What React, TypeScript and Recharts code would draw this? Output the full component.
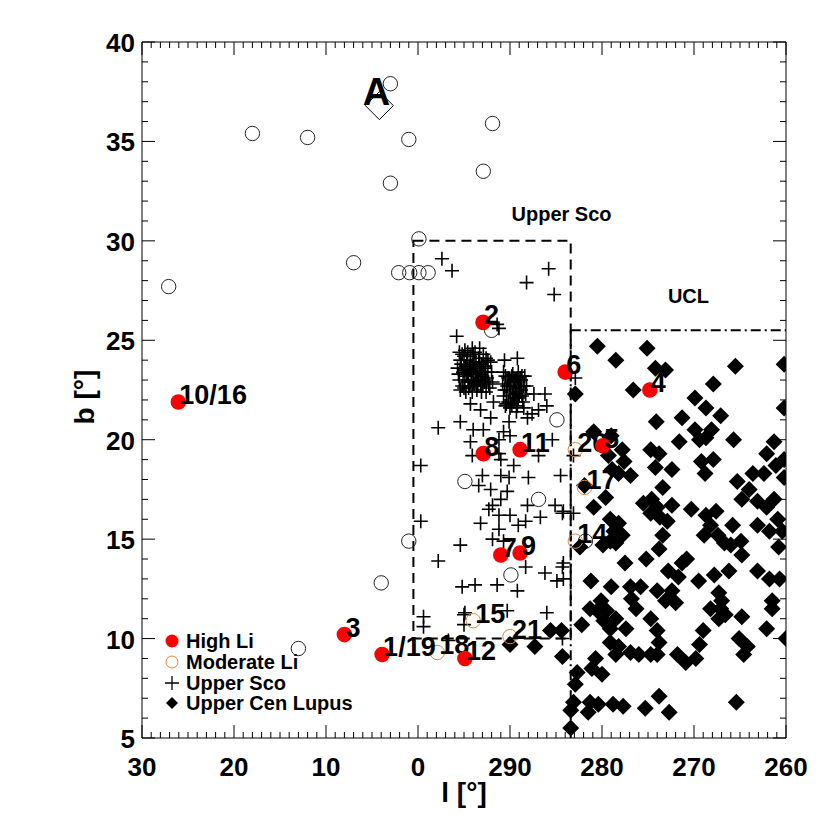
import React from "react";
import {
  ScatterChart,
  Scatter,
  XAxis,
  YAxis,
  ReferenceArea,
  ReferenceLine,
  Customized,
} from "recharts";

const FONT = "'Liberation Sans', Arial, Helvetica, sans-serif";

// x ticks: linear offset from l=0, labels as printed on the figure
const xMajor = [30, 20, 10, 0, -10, -20, -30, -40];
const xMajorLabels = ["30", "20", "10", "0", "290", "280", "270", "260"];
const yMajor = [5, 10, 15, 20, 25, 30, 35, 40];

// unlabelled field stars (open black circles)
const otherStars: [number, number][] = [
  [27.1, 27.7], [18.0, 35.4], [12.0, 35.2], [3.0, 37.9], [1.0, 35.1], [3.0, 32.9],
  [7.0, 28.9], [-0.1, 30.1], [2.1, 28.4], [0.9, 28.4], [-0.1, 28.4], [-1.1, 28.4],
  [-8.1, 35.9], [-7.1, 33.5], [-8.0, 25.5], [-15.1, 21.0], [-5.1, 17.9], [-13.1, 17.0],
  [1.0, 14.9], [-10.1, 13.2], [4.0, 12.8], [13.0, 9.5], [-18.2, 14.9],
];

const groupA: [number, number][] = [[4.2, 36.8]];

const upperSco: [number, number][] = [
  [-2.6, 29.1], [-3.7, 28.5], [-14.2, 28.6], [-11.8, 27.9], [-14.8, 27.3], [-8.6, 25.8],
  [-8.8, 25.6], [-4.2, 25.2], [-5.1, 24.5], [-10.8, 24.1], [-9.4, 24.0], [-11.3, 23.2],
  [-13.8, 22.3], [-12.6, 22.3], [-13.1, 21.5], [-14.0, 21.7], [-12.4, 21.3], [-5.7, 21.8],
  [-6.8, 21.5], [-8.2, 21.9], [-7.9, 21.1], [-9.9, 20.9], [-11.9, 21.1], [-4.6, 20.9],
  [-2.2, 20.6], [-6.0, 20.5], [-7.1, 20.5], [-9.3, 20.4], [-5.7, 19.9], [-14.6, 20.0],
  [-8.8, 20.0], [-10.0, 20.2], [-0.3, 18.7], [-5.9, 19.2], [-8.8, 19.3], [-9.0, 19.0],
  [-10.4, 18.7], [-13.1, 19.2], [-7.0, 18.2], [-9.0, 18.2], [-9.9, 18.1], [-6.6, 17.7],
  [-7.9, 17.5], [-9.7, 17.4], [-12.0, 18.1], [-15.5, 18.2], [-14.9, 16.7], [-15.7, 16.3],
  [-11.9, 16.7], [-13.3, 16.1], [-8.1, 16.7], [-7.7, 16.5], [-9.0, 17.0], [-10.0, 16.2],
  [-11.7, 15.9], [-10.9, 15.7], [-8.8, 16.2], [-6.8, 15.8], [-8.8, 15.5], [-8.1, 15.0],
  [-9.3, 14.9], [-0.3, 15.9], [-4.6, 14.7], [-2.2, 13.9], [-11.7, 13.6], [-13.8, 13.3],
  [-15.7, 13.6], [-15.1, 12.9], [-8.6, 12.7], [-4.8, 12.6], [-6.2, 12.7], [-10.8, 12.4],
  [-5.1, 11.3], [-9.7, 11.4], [-14.0, 11.3], [-0.6, 11.1], [-0.6, 10.6], [-5.0, 10.7],
  [-3.3, 9.9], [-5.0, 11.2], [-17.1, 23.1], [-16.9, 19.2], [-15.8, 16.4], [-16.9, 16.3],
  [-15.8, 13.8], [-15.8, 13.0], [-15.7, 10.0],
  // dense group near l~354
  [-4.3, 23.6], [-4.5, 23.0], [-4.6, 24.0], [-4.8, 22.7], [-4.9, 23.4], [-5.0, 24.2],
  [-5.1, 22.9], [-5.2, 23.7], [-5.3, 23.2], [-5.4, 24.4], [-5.5, 22.6], [-5.6, 23.5],
  [-5.7, 23.9], [-5.8, 23.0], [-5.9, 22.4], [-6.0, 23.6], [-6.0, 24.3], [-6.1, 22.8],
  [-6.2, 23.3], [-6.3, 23.9], [-6.4, 22.5], [-6.5, 23.1], [-6.6, 24.1], [-6.7, 23.5],
  [-6.8, 22.7], [-6.9, 23.8], [-7.0, 23.2], [-7.1, 24.3], [-7.2, 22.9], [-7.3, 23.6],
  [-7.5, 23.1], [-7.6, 24.0], [-7.8, 22.6], [-8.0, 23.4], [-5.4, 23.3], [-6.6, 23.0],
  [-5.9, 23.7], [-6.3, 22.9], [-7.4, 22.4], [-4.6, 22.5],
  [-4.4, 23.3], [-4.7, 23.8], [-4.8, 24.3], [-5.0, 22.6], [-5.1, 23.5], [-5.3, 24.0],
  [-5.5, 23.0], [-5.6, 22.7], [-5.7, 24.2], [-5.8, 23.4], [-6.0, 22.9], [-6.1, 23.8],
  [-6.2, 24.4], [-6.4, 23.4], [-6.5, 22.8], [-6.7, 23.9], [-6.8, 23.3], [-7.0, 22.7],
  [-7.1, 23.7], [-7.3, 23.0], [-7.4, 24.1], [-7.6, 23.4], [-7.7, 22.8], [-7.9, 23.9],
  [-5.2, 22.4], [-6.9, 22.4], [-4.5, 24.4], [-8.1, 22.9], [-5.9, 24.6], [-6.7, 24.6],
  // second group near l~350
  [-9.2, 22.8], [-9.3, 22.2], [-9.5, 23.2], [-9.6, 22.5], [-9.8, 21.9], [-9.9, 23.0],
  [-10.0, 22.4], [-10.1, 22.9], [-10.2, 21.8], [-10.3, 23.3], [-10.4, 22.6], [-10.5, 22.1],
  [-10.6, 23.0], [-10.7, 22.4], [-10.8, 21.7], [-10.9, 22.8], [-11.0, 22.2], [-11.1, 23.1],
  [-11.2, 22.5], [-11.4, 21.9], [-11.5, 22.7], [-11.7, 22.3], [-10.3, 22.3], [-9.7, 22.7],
  [-10.9, 23.4], [-10.0, 21.6],
  [-9.3, 23.4], [-9.4, 22.5], [-9.6, 21.8], [-9.8, 23.1], [-10.0, 22.7], [-10.1, 22.0],
  [-10.2, 23.2], [-10.4, 21.9], [-10.5, 22.9], [-10.6, 22.3], [-10.8, 23.1], [-10.9, 22.1],
  [-11.0, 22.6], [-11.2, 23.0], [-11.3, 22.2], [-11.5, 21.6], [-11.6, 23.2], [-9.5, 21.7],
  [-10.7, 21.4], [-11.8, 22.7],
];

const ucl: [number, number][] = [
  [-19.5, 24.7], [-24.9, 24.6], [-21.5, 24.0], [-25.8, 23.6], [-26.9, 23.5], [-23.4, 22.5],
  [-17.1, 22.3], [-25.9, 20.9], [-19.1, 20.4], [-21.0, 20.2], [-22.2, 19.5], [-20.7, 19.2],
  [-25.3, 19.5], [-26.2, 19.3], [-22.4, 18.9], [-21.1, 18.5], [-21.8, 18.3], [-23.1, 18.2],
  [-25.8, 18.6], [-27.6, 18.5], [-18.1, 17.7], [-26.6, 17.6], [-20.4, 17.1], [-19.1, 16.6],
  [-24.5, 16.8], [-25.4, 17.0], [-26.0, 16.6], [-25.3, 16.3], [-27.6, 16.7], [-26.3, 16.1],
  [-27.1, 15.9], [-20.9, 16.0], [-21.8, 15.8], [-21.3, 15.4], [-22.2, 15.2], [-26.6, 15.2],
  [-34.5, 23.7], [-39.8, 23.8], [-32.1, 22.8], [-30.1, 22.1], [-31.3, 21.6], [-32.9, 21.2],
  [-28.7, 21.1], [-39.8, 21.6], [-30.1, 20.5], [-31.9, 20.5], [-30.6, 20.0], [-31.3, 20.1],
  [-28.4, 19.9], [-34.3, 20.0], [-38.7, 19.9], [-37.9, 19.3], [-30.8, 18.9], [-32.1, 19.0],
  [-31.2, 18.3], [-39.8, 19.0], [-38.9, 18.7], [-36.4, 18.3], [-37.6, 18.3], [-39.8, 18.1],
  [-34.7, 17.9], [-36.0, 17.5], [-35.2, 17.0], [-36.9, 16.9], [-38.7, 17.0], [-37.9, 16.6],
  [-29.7, 16.5], [-31.3, 16.2], [-32.4, 16.4], [-31.8, 15.7], [-34.2, 15.7], [-36.9, 15.7],
  [-39.1, 16.0], [-38.2, 15.4], [-39.6, 15.4], [-31.1, 15.2], [-32.6, 15.2],
  [-17.6, 14.6], [-20.1, 14.7], [-21.5, 14.8], [-20.9, 14.9], [-26.2, 14.5], [-22.5, 13.8],
  [-24.8, 14.0], [-27.2, 13.4], [-28.3, 13.1], [-18.8, 12.9], [-21.0, 12.6], [-23.1, 12.6],
  [-24.2, 12.6], [-26.0, 12.4], [-27.6, 12.4], [-26.9, 11.9], [-28.0, 11.8], [-23.2, 12.0],
  [-23.7, 11.5], [-19.9, 11.9], [-18.7, 11.5], [-19.5, 11.4], [-20.5, 11.4], [-21.5, 11.0],
  [-20.2, 10.9], [-20.9, 10.5], [-17.8, 10.7], [-22.6, 10.5], [-25.3, 11.0], [-26.0, 10.4],
  [-26.2, 9.8], [-20.9, 9.8], [-21.8, 9.6], [-21.5, 9.2], [-23.1, 9.3], [-24.0, 9.2],
  [-25.3, 9.2], [-26.0, 9.2], [-28.2, 9.2], [-15.7, 9.1], [-19.3, 9.0], [-18.9, 8.5],
  [-20.0, 8.2], [-17.3, 8.3], [-17.1, 7.7], [-16.9, 6.8], [-16.6, 6.4], [-18.7, 6.8],
  [-19.6, 6.7], [-18.5, 6.3], [-21.2, 6.7], [-22.3, 6.6], [-24.7, 6.5], [-26.2, 7.1],
  [-27.3, 6.3], [-16.6, 5.5],
  [-33.3, 14.8], [-34.0, 14.7], [-35.1, 14.9], [-35.2, 14.2], [-39.2, 14.6], [-29.2, 14.0],
  [-28.7, 13.8], [-30.5, 12.9], [-32.2, 13.2], [-33.8, 13.4], [-36.9, 13.4], [-38.2, 13.0],
  [-39.3, 13.0], [-32.7, 12.3], [-33.0, 11.9], [-31.8, 11.5], [-32.9, 11.5], [-33.4, 11.2],
  [-32.7, 11.0], [-35.2, 11.1], [-38.5, 11.9], [-38.5, 11.5], [-37.9, 10.5], [-31.0, 10.4],
  [-30.6, 9.7], [-34.9, 10.0], [-35.8, 9.6], [-35.4, 9.2], [-40.0, 10.0], [-29.1, 8.8],
  [-30.2, 9.0], [-34.6, 6.8],
  [-10.0, 9.7], [-12.7, 9.6], [-14.4, 10.4], [-15.6, 10.4],
];

const highLi: [number, number][] = [
  [26.05, 21.9], [-7.07, 25.9], [-16.0, 23.4], [-25.2, 22.5], [-20.1, 19.7], [-7.1, 19.3],
  [-11.1, 19.5], [-9.0, 14.2], [-11.1, 14.3], [8.0, 10.2], [3.9, 9.2], [-5.1, 9.0],
];
const highLiLabels = ["10/16", "2", "6", "4", "5", "8", "11", "7", "9", "3", "1/19", "12"];

const moderateLi: [number, number][] = [
  [-2.1, 9.3], [-6.0, 10.9], [-10.0, 10.1], [-17.1, 19.5], [-18.1, 17.6], [-17.1, 14.9],
];
const moderateLiLabels = ["18", "15", "21", "20", "17", "14"];

const regionNotes: [number, number][] = [[-15.6, 31.0], [-29.4, 26.85]];
const regionNoteText = ["Upper Sco", "UCL"];

const toRows = (pts: [number, number][], labels?: string[]) =>
  pts.map(([u, b], i) => ({ u, b, label: labels ? labels[i] : "" }));

const xTicks: number[] = [];
for (let v = -40; v <= 30; v++) xTicks.push(v);
const yTicks: number[] = [];
for (let v = 5; v <= 40; v++) yTicks.push(v);

const BottomTick = (p: any) => {
  const v = p.payload.value;
  const major = v % 10 === 0;
  const idx = xMajor.indexOf(v);
  return (
    <g>
      <line x1={p.x} y1={p.y} x2={p.x} y2={p.y - (major ? 13 : 6)} stroke="#000" strokeWidth={1} />
      {idx >= 0 && (
        <text x={p.x} y={p.y + 38} textAnchor="middle" fontSize={26} fontWeight="bold" fontFamily={FONT} fill="#000">
          {xMajorLabels[idx]}
        </text>
      )}
    </g>
  );
};

const TopTick = (p: any) => {
  const major = p.payload.value % 10 === 0;
  return <line x1={p.x} y1={p.y} x2={p.x} y2={p.y + (major ? 13 : 6)} stroke="#000" strokeWidth={1} />;
};

const LeftTick = (p: any) => {
  const v = p.payload.value;
  const major = yMajor.includes(v);
  return (
    <g>
      <line x1={p.x} y1={p.y} x2={p.x + (major ? 13 : 6)} y2={p.y} stroke="#000" strokeWidth={1} />
      {major && (
        <text x={p.x - 7} y={p.y + 10} textAnchor="end" fontSize={26} fontWeight="bold" fontFamily={FONT} fill="#000">
          {v}
        </text>
      )}
    </g>
  );
};

const RightTick = (p: any) => {
  const major = yMajor.includes(p.payload.value);
  return <line x1={p.x} y1={p.y} x2={p.x - (major ? 13 : 6)} y2={p.y} stroke="#000" strokeWidth={1} />;
};

const OpenCircle = (p: any) => (
  <circle cx={p.cx} cy={p.cy} r={7.2} fill="none" stroke="#222" strokeWidth={1} />
);

const OpenDiamondA = (p: any) => (
  <g>
    <polygon
      points={`${p.cx},${p.cy - 14} ${p.cx + 14},${p.cy} ${p.cx},${p.cy + 14} ${p.cx - 14},${p.cy}`}
      fill="none"
      stroke="#000"
      strokeWidth={1}
    />
    <text x={p.cx - 3} y={p.cy - 1} textAnchor="middle" fontSize={38} fontWeight="bold" fontFamily={FONT} fill="#000">
      A
    </text>
  </g>
);

const Cross = (p: any) => (
  <path
    d={`M${p.cx - 7},${p.cy}H${p.cx + 7}M${p.cx},${p.cy - 7}V${p.cy + 7}`}
    stroke="#000"
    strokeWidth={1.6}
    fill="none"
  />
);

const Diamond = (p: any) => (
  <polygon
    points={`${p.cx},${p.cy - 8.5} ${p.cx + 8.5},${p.cy} ${p.cx},${p.cy + 8.5} ${p.cx - 8.5},${p.cy}`}
    fill="#000"
  />
);

const HighLiDot = (p: any) => (
  <g>
    <circle cx={p.cx} cy={p.cy} r={7.8} fill="#ff0000" />
    <text x={p.cx + 1} y={p.cy + 2} fontSize={27} fontWeight="bold" fontFamily={FONT} fill="#000">
      {p.payload.label}
    </text>
  </g>
);

const ModerateLiDot = (p: any) => (
  <g>
    <circle cx={p.cx} cy={p.cy} r={7.2} fill="none" stroke="#e8823a" strokeWidth={1} />
    <text x={p.cx + 2} y={p.cy + 2} fontSize={27} fontWeight="bold" fontFamily={FONT} fill="#000">
      {p.payload.label}
    </text>
  </g>
);

const RegionNote = (p: any) => (
  <text x={p.cx} y={p.cy} textAnchor="middle" fontSize={20} fontWeight="bold" fontFamily={FONT} fill="#000">
    {p.payload.label}
  </text>
);

const Decorations = () => (
  <g fontFamily={FONT} fontWeight="bold" fill="#000">
    <text x={464} y={802} textAnchor="middle" fontSize={28}>
      l [°]
    </text>
    <text x={94} y={397} textAnchor="middle" fontSize={28} transform="rotate(-90 94 397)">
      b [°]
    </text>
    <g fontSize={20}>
      <circle cx={172} cy={641} r={6.5} fill="#ff0000" />
      <text x={186} y={648}>High Li</text>
      <circle cx={172} cy={662} r={6} fill="none" stroke="#e8823a" strokeWidth={1} />
      <text x={186} y={669}>Moderate Li</text>
      <path d="M165,683H179M172,676V690" stroke="#000" strokeWidth={1.3} />
      <text x={186} y={690}>Upper Sco</text>
      <polygon points="172,697 178,703 172,709 166,703" fill="#000" />
      <text x={186} y={710}>Upper Cen Lupus</text>
    </g>
  </g>
);

export default function App() {
  return (
    <div style={{ position: "absolute", left: 0, top: 0, width: 830, height: 830, background: "#fff" }}>
      <ScatterChart width={830} height={830} margin={{ top: 40, right: 40, bottom: 32, left: 0 }}>
        <XAxis
          xAxisId="b"
          type="number"
          dataKey="u"
          domain={[-40, 30]}
          reversed
          allowDataOverflow
          ticks={xTicks}
          interval={0}
          tickSize={0}
          tickMargin={0}
          tickLine={false}
          axisLine={{ stroke: "#000" }}
          tick={(p: any) => <BottomTick {...p} />}
          height={60}
        />
        <XAxis
          xAxisId="t"
          orientation="top"
          type="number"
          dataKey="u"
          domain={[-40, 30]}
          reversed
          allowDataOverflow
          ticks={xTicks}
          interval={0}
          tickSize={0}
          tickMargin={0}
          tickLine={false}
          axisLine={{ stroke: "#000" }}
          tick={(p: any) => <TopTick {...p} />}
          height={2}
        />
        <YAxis
          yAxisId="l"
          type="number"
          dataKey="b"
          domain={[5, 40]}
          allowDataOverflow
          ticks={yTicks}
          interval={0}
          tickSize={0}
          tickMargin={0}
          tickLine={false}
          axisLine={{ stroke: "#000" }}
          tick={(p: any) => <LeftTick {...p} />}
          width={142}
        />
        <YAxis
          yAxisId="r"
          orientation="right"
          type="number"
          dataKey="b"
          domain={[5, 40]}
          allowDataOverflow
          ticks={yTicks}
          interval={0}
          tickSize={0}
          tickMargin={0}
          tickLine={false}
          axisLine={{ stroke: "#000" }}
          tick={(p: any) => <RightTick {...p} />}
          width={4}
        />

        <ReferenceArea
          xAxisId="b"
          yAxisId="l"
          x1={0.5}
          x2={-16.6}
          y1={10}
          y2={30}
          fill="none"
          fillOpacity={0}
          stroke="#000"
          strokeWidth={2}
          strokeDasharray="10 6"
        />
        <ReferenceLine
          xAxisId="b"
          yAxisId="l"
          segment={[{ x: -16.6, y: 25.5 }, { x: -40, y: 25.5 }]}
          stroke="#000"
          strokeWidth={2}
          strokeDasharray="10 4 2 4"
        />
        <ReferenceLine
          xAxisId="b"
          yAxisId="l"
          segment={[{ x: -16.6, y: 25.5 }, { x: -16.6, y: 5 }]}
          stroke="#000"
          strokeWidth={2}
          strokeDasharray="10 4 2 4"
        />

        <Scatter xAxisId="t" yAxisId="r" data={[]} isAnimationActive={false} />
        <Scatter xAxisId="b" yAxisId="l" data={toRows(otherStars)} shape={OpenCircle} isAnimationActive={false} />
        <Scatter xAxisId="b" yAxisId="l" data={toRows(groupA)} shape={OpenDiamondA} isAnimationActive={false} />
        <Scatter xAxisId="b" yAxisId="l" data={toRows(upperSco)} shape={Cross} isAnimationActive={false} />
        <Scatter xAxisId="b" yAxisId="l" data={toRows(ucl)} shape={Diamond} isAnimationActive={false} />
        <Scatter
          xAxisId="b"
          yAxisId="l"
          data={toRows(moderateLi, moderateLiLabels)}
          shape={ModerateLiDot}
          isAnimationActive={false}
        />
        <Scatter xAxisId="b" yAxisId="l" data={toRows(highLi, highLiLabels)} shape={HighLiDot} isAnimationActive={false} />
        <Scatter
          xAxisId="b"
          yAxisId="l"
          data={toRows(regionNotes, regionNoteText)}
          shape={RegionNote}
          isAnimationActive={false}
        />
        <Customized component={Decorations} />
      </ScatterChart>
    </div>
  );
}
